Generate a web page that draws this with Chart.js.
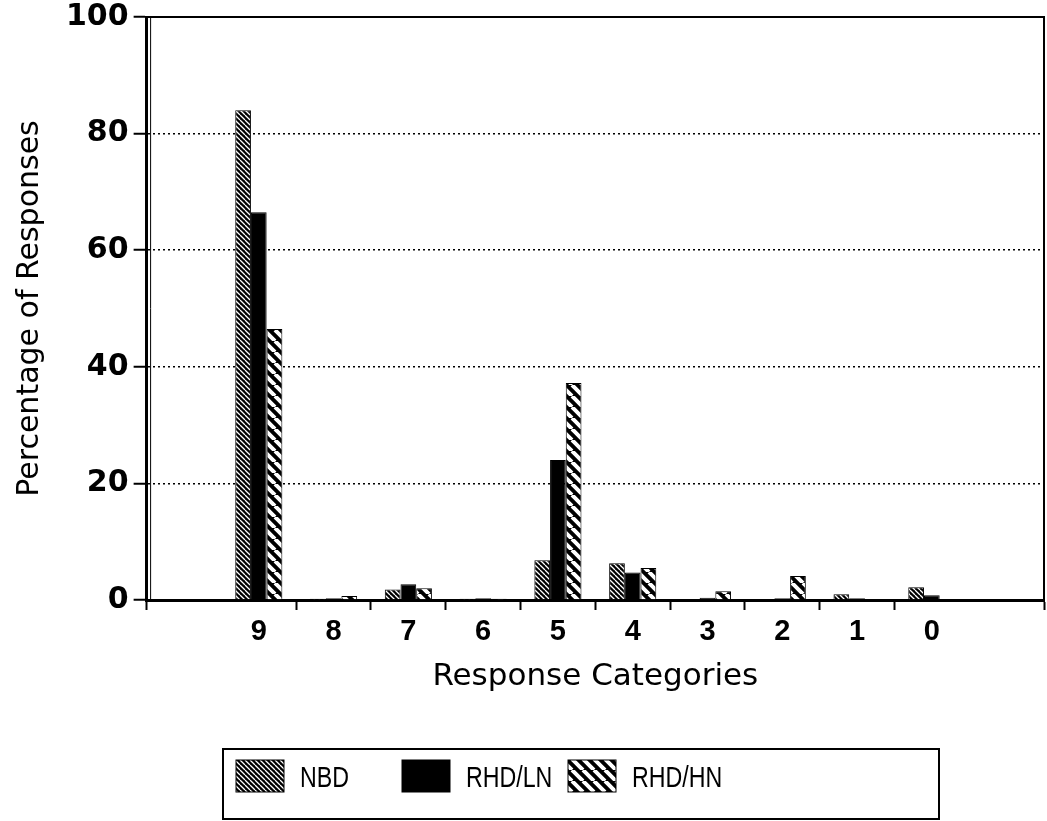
<!DOCTYPE html>
<html>
<head>
<meta charset="utf-8">
<script src="https://cdn.jsdelivr.net/npm/chart.js@4.4.1/dist/chart.umd.min.js"></script>
<style>
  html, body { margin: 0; padding: 0; background: #fff; }
  #wrap { width: 1047px; height: 821px; }
</style>
</head>
<body>
<div id="wrap"><canvas id="response-chart" width="1047" height="821"></canvas></div>
<script>
// blank slot on each side, as in the original plot
const categories = ['', '9', '8', '7', '6', '5', '4', '3', '2', '1', '0', ''];
const nbdValues = [null, 84.0, 0.2, 1.8, 0.2, 6.8, 6.3, 0, 0, 1.0, 2.2, null];
const lnValues = [null, 66.5, 0.3, 2.7, 0.3, 24.0, 4.7, 0.4, 0.3, 0.3, 0.8, null];
const hnValues = [null, 46.5, 0.7, 2.0, 0.2, 37.2, 5.5, 1.5, 4.1, 0, 0, null];
const seriesNames = ['NBD', 'RHD/LN', 'RHD/HN'];
const yTicks = [0, 20, 40, 60, 80, 100];

document.addEventListener('DOMContentLoaded', main);

function main() {
  const ctx = document.querySelector('#response-chart').getContext('2d');
  const fills = [hatch(5, 1.3), 'black', hatch(11, 4)];

  new Chart(ctx, {
    type: 'bar',
    data: {
      labels: categories,
      datasets: [nbdValues, lnValues, hnValues].map((data, i) => ({
        label: seriesNames[i],
        data,
        backgroundColor: fills[i],
        borderColor: 'black',
        borderWidth: 1,
        categoryPercentage: 0.63,
        barPercentage: 1
      }))
    },
    options: {
      responsive: false,
      animation: false,
      layout: { padding: { left: 8, right: 3, top: 10, bottom: 121 } },
      plugins: {
        legend: { display: false },
        tooltip: { enabled: false }
      },
      scales: {
        x: {
          offset: true,
          grid: {
            offset: true,
            drawOnChartArea: false,
            tickLength: 10,
            tickWidth: 2,
            tickColor: c => (c.index === 1 || c.index === 11) ? 'rgba(0,0,0,0)' : 'black'
          },
          border: { color: 'black', width: 3 },
          ticks: {
            color: 'black',
            padding: 5,
            maxRotation: 0,
            font: { family: '"Liberation Sans", Arial', size: 29, weight: 'bold' }
          },
          title: {
            display: true,
            text: 'Response Categories',
            color: 'black',
            padding: { top: 4 },
            font: { family: '"DejaVu Sans", Arial', size: 31 }
          }
        },
        y: {
          min: 0,
          max: 100,
          afterBuildTicks: axis => { axis.ticks = yTicks.map(v => ({ value: v })); },
          grid: {
            color: c => (c.tick.value === 0 || c.tick.value === 100) ? 'rgba(0,0,0,0)' : 'black',
            lineWidth: 1.5,
            tickColor: 'black',
            tickLength: 13,
            tickWidth: 2
          },
          border: { color: 'black', width: 3, dash: [2, 3] },
          ticks: {
            color: 'black',
            padding: 5,
            font: { family: '"DejaVu Sans", Arial', size: 30, weight: 'bold', lineHeight: 0.8 }
          },
          title: {
            display: true,
            text: 'Percentage of Responses',
            color: 'black',
            padding: { bottom: 13 },
            font: { family: '"DejaVu Sans", Arial', size: 30 }
          }
        }
      }
    },
    plugins: [framePlugin, boxLegend]
  });
}

function hatch(size, lineWidth) {
  const c = document.createElement('canvas');
  c.width = c.height = size;
  const g = c.getContext('2d');
  g.fillStyle = 'black';
  g.fillRect(0, 0, size, size);
  g.strokeStyle = 'white';
  g.lineWidth = lineWidth;
  g.beginPath();
  for (const o of [-size, 0, size]) {
    g.moveTo(o, 0);
    g.lineTo(o + size, size);
  }
  g.stroke();
  return g.createPattern(c, 'repeat');
}

const framePlugin = {
  id: 'frame',
  afterDraw(chart) {
    const { ctx, chartArea: a } = chart;
    ctx.save();
    ctx.strokeStyle = 'black';
    ctx.lineWidth = 2;
    ctx.beginPath();
    ctx.moveTo(a.left, a.top);
    ctx.lineTo(a.right, a.top);
    ctx.lineTo(a.right, a.bottom);
    ctx.stroke();
    ctx.lineWidth = 1;
    ctx.beginPath();
    ctx.moveTo(a.left + 4, a.top);
    ctx.lineTo(a.left + 4, a.bottom);
    ctx.stroke();
    ctx.restore();
  }
};

// boxed legend under the plot, three fixed-width columns
const boxLegend = {
  id: 'boxLegend',
  afterDraw(chart) {
    const ctx = chart.ctx;
    const box = { x: 223, y: 749, w: 716, h: 70 };
    ctx.save();
    ctx.fillStyle = 'white';
    ctx.fillRect(box.x, box.y, box.w, box.h);
    ctx.strokeStyle = 'black';
    ctx.lineWidth = 2;
    ctx.strokeRect(box.x, box.y, box.w, box.h);
    chart.data.datasets.forEach((ds, i) => {
      const x = box.x + 13 + i * 166;
      ctx.fillStyle = ds.backgroundColor;
      ctx.fillRect(x, 760, 48, 32);
      ctx.lineWidth = 1;
      ctx.strokeRect(x, 760, 48, 32);
      // condensed label text
      ctx.save();
      ctx.translate(x + 64, 779);
      ctx.scale(0.8, 1);
      ctx.font = '29px "Liberation Sans", Arial';
      ctx.textBaseline = 'middle';
      ctx.fillStyle = 'black';
      ctx.fillText(ds.label, 0, 0);
      ctx.restore();
    });
    ctx.restore();
  }
};
</script>
</body>
</html>
